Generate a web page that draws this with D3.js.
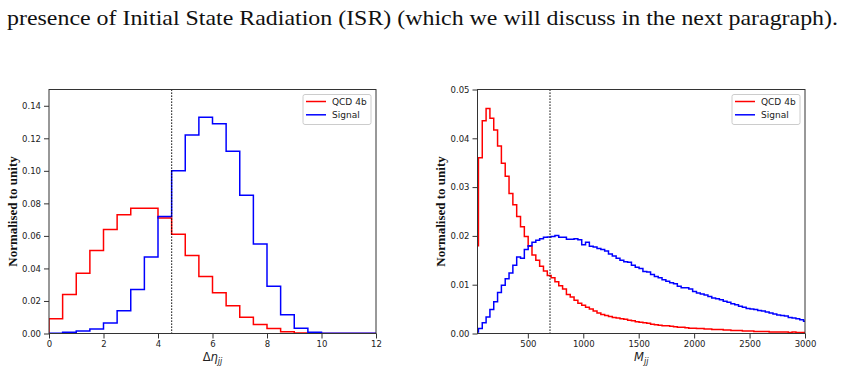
<!DOCTYPE html>
<html lang="en">
<head>
<meta charset="UTF-8">
<title>Delta eta and Mjj histograms</title>
<script src="https://cdn.jsdelivr.net/npm/d3@7"></script>
<style>
    body { margin: 0; background: #fff; }
</style>
</head>
<body>
<svg width="843" height="390" id="mainsvg"></svg>
<script>
    // Delta eta_jj histogram, bins of 0.5 from 0 to 12
    const etaFirstEdge = 0
    const etaBinWidth = 0.5
    const etaQcd = [0.009, 0.024, 0.037, 0.051, 0.064, 0.073, 0.077, 0.077, 0.071, 0.061,
        0.048, 0.035, 0.025, 0.017, 0.010, 0.0055, 0.003, 0.001, 0.0003, 0.0001,
        0, 0, 0, 0]
    const etaSignal = [0.0002, 0.0007, 0.0015, 0.0028, 0.0065, 0.014, 0.027, 0.047, 0.072, 0.100,
        0.122, 0.133, 0.129, 0.112, 0.085, 0.055, 0.029, 0.0115, 0.0033, 0.0008,
        0.0002, 0.0001, 0.0001, 0.0001]
    const etaXTicks = [0, 2, 4, 6, 8, 10, 12]
    const etaYTicks = [0, 0.02, 0.04, 0.06, 0.08, 0.10, 0.12, 0.14]
    const etaCut = 4.5

    // M_jj histogram
    const mjjFirstEdge = 20
    const mjjBinWidth = 34.5
    const mjjQcd = [0.0180, 0.0360, 0.0436, 0.0461, 0.0441, 0.0417, 0.0384, 0.0349, 0.0322, 0.0287,
        0.0264, 0.0240, 0.0219, 0.0199, 0.0179, 0.0161, 0.0150, 0.0138, 0.0128, 0.0119,
        0.0114, 0.0106, 0.0098, 0.0091, 0.0080, 0.0075, 0.0068, 0.0062, 0.0058, 0.0054,
        0.0050, 0.0046, 0.0042, 0.0039, 0.0037, 0.0035, 0.0033, 0.0032, 0.0030, 0.0029,
        0.0027, 0.0026, 0.0024, 0.0023, 0.0022, 0.0021, 0.0019, 0.0018, 0.0017, 0.0016,
        0.0016, 0.0015, 0.0014, 0.0013, 0.0013, 0.0012, 0.0011, 0.0011, 0.0010, 0.0010,
        0.0009, 0.0009, 0.0008, 0.0008, 0.0008, 0.0007, 0.0007, 0.0006, 0.0006, 0.0006,
        0.0005, 0.0005, 0.0005, 0.0004, 0.0004, 0.0004, 0.0004, 0.0003, 0.0003, 0.0003,
        0.0003, 0.0003, 0.0002, 0.0003, 0.0002, 0.0002, 0.0002]
    const mjjSignal = [0.0003, 0.0010, 0.0022, 0.0034, 0.0049, 0.0065, 0.0084, 0.0099, 0.0112, 0.0124,
        0.0140, 0.0157, 0.0154, 0.0172, 0.0180, 0.0187, 0.0191, 0.0194, 0.0197, 0.0198,
        0.0199, 0.0201, 0.0197, 0.0197, 0.0193, 0.0193, 0.0194, 0.0192, 0.0182, 0.0187,
        0.0179, 0.0177, 0.0174, 0.0172, 0.0169, 0.0163, 0.0159, 0.0154, 0.0150, 0.0147,
        0.0146, 0.0140, 0.0136, 0.0133, 0.0127, 0.0126, 0.0121, 0.0117, 0.0114, 0.0110,
        0.0107, 0.0104, 0.0102, 0.0097, 0.0094, 0.0094, 0.0091, 0.0086, 0.0083, 0.0081,
        0.0079, 0.0076, 0.0073, 0.0071, 0.0069, 0.0066, 0.0064, 0.0061, 0.0059, 0.0056,
        0.0054, 0.0051, 0.0050, 0.0049, 0.0047, 0.0046, 0.0044, 0.0042, 0.0040, 0.0038,
        0.0037, 0.0036, 0.0033, 0.0032, 0.0030, 0.0028, 0.0025]
    const mjjXTicks = [500, 1000, 1500, 2000, 2500, 3000]
    const mjjYTicks = [0, 0.01, 0.02, 0.03, 0.04, 0.05]
    const mjjCut = 700

    const seriesNames = ['QCD 4b', 'Signal']
    const seriesColors = ['#ff0000', '#0000ff']

    const svg = d3.select('#mainsvg')

    svg.append('text')
        .attr('x', 7).attr('y', 25)
        .attr('textLength', 831).attr('lengthAdjust', 'spacingAndGlyphs')
        .attr('font-family', 'Liberation Serif, serif').attr('font-size', '21px')
        .attr('fill', '#111')
        .text('presence of Initial State Radiation (ISR) (which we will discuss in the next paragraph).')

    function drawPanel(p) {
        const g = svg.append('g').attr('transform', `translate(${p.left},${p.top})`)
        const w = p.width, h = p.height

        const x = d3.scaleLinear().domain(p.xDomain).range([0, w])
        const y = d3.scaleLinear().domain(p.yDomain).range([h, 0])

        const clipId = 'clip' + p.id
        g.append('clipPath').attr('id', clipId)
            .append('rect').attr('width', w).attr('height', h)

        const line = d3.line().x(d => x(d[0])).y(d => y(d[1])).curve(d3.curveStepAfter)

        p.series.forEach((vals, si) => {
            const pts = [[p.firstEdge, 0]]
            vals.forEach((v, i) => pts.push([p.firstEdge + i * p.binWidth, v]))
            const lastEdge = p.firstEdge + vals.length * p.binWidth
            pts.push([lastEdge, vals[vals.length - 1]])
            pts.push([lastEdge, 0])
            g.append('path').datum(pts)
                .attr('clip-path', `url(#${clipId})`)
                .attr('d', line)
                .attr('fill', 'none')
                .attr('stroke', seriesColors[si])
                .attr('stroke-width', 1.5)
        })

        g.append('line')
            .attr('x1', x(p.cut)).attr('x2', x(p.cut))
            .attr('y1', 0).attr('y2', h)
            .attr('stroke', '#000').attr('stroke-width', 1.2)
            .attr('stroke-dasharray', '1.2,1.8')

        const xAxis = d3.axisBottom(x).tickValues(p.xTicks).tickSize(5).tickPadding(2.5)
            .tickFormat(d3.format('d'))
        const yAxis = d3.axisLeft(y).tickValues(p.yTicks).tickSize(5).tickPadding(3)
            .tickFormat(d3.format('.2f'))
        const xg = g.append('g').attr('transform', `translate(0,${h})`).call(xAxis)
        const yg = g.append('g').call(yAxis)
        ;[xg, yg].forEach(a => {
            a.select('.domain').remove()
            a.selectAll('line').attr('stroke', '#333')
            a.selectAll('text').attr('font-family', 'DejaVu Sans, sans-serif')
                .attr('font-size', '8.5px').attr('fill', '#222')
        })

        g.append('rect').attr('width', w).attr('height', h)
            .attr('fill', 'none').attr('stroke', '#333').attr('stroke-width', 1)

        // legend
        const lg = g.append('g').attr('transform', `translate(${w - 73},5)`)
        lg.append('rect').attr('width', 68).attr('height', 30).attr('rx', 2)
            .attr('fill', '#fff').attr('fill-opacity', 0.8)
            .attr('stroke', '#ccc').attr('stroke-width', 1)
        seriesNames.forEach((n, i) => {
            const yy = 7 + i * 13.3
            lg.append('line').attr('x1', 3).attr('x2', 23).attr('y1', yy).attr('y2', yy)
                .attr('stroke', seriesColors[i]).attr('stroke-width', 1.5)
            lg.append('text').attr('x', 29).attr('y', yy + 3.3).text(n)
                .attr('font-family', 'DejaVu Sans, sans-serif').attr('font-size', '9px')
                .attr('fill', '#222')
        })

        g.append('text')
            .attr('transform', `translate(${p.yLabelX},${h / 2}) rotate(-90)`)
            .attr('text-anchor', 'middle')
            .attr('font-family', 'Liberation Serif, serif').attr('font-weight', 'bold')
            .attr('font-size', '13px').attr('fill', '#111')
            .text('Normalised to unity')

        const xl = g.append('text')
            .attr('x', w / 2).attr('y', h + 27)
            .attr('text-anchor', 'middle')
            .attr('font-family', 'DejaVu Sans, sans-serif').attr('font-size', '11.5px')
            .attr('fill', '#222')
        xl.append('tspan').text(p.xLabelMain[0])
        xl.append('tspan').attr('font-style', 'italic').text(p.xLabelMain[1])
        xl.append('tspan').attr('font-style', 'italic').attr('font-size', '8px')
            .attr('dy', 3).text('jj')
    }

    drawPanel({
        id: 'eta', left: 49, top: 89.5, width: 327, height: 244,
        xDomain: [0, 12], yDomain: [0, 0.15],
        firstEdge: etaFirstEdge, binWidth: etaBinWidth,
        series: [etaQcd, etaSignal],
        xTicks: etaXTicks, yTicks: etaYTicks, cut: etaCut,
        yLabelX: -32.5, xLabelMain: ['Δ', 'η']
    })

    drawPanel({
        id: 'mjj', left: 477.5, top: 89.5, width: 327.5, height: 244,
        xDomain: [46, 3000], yDomain: [0, 0.05],
        firstEdge: mjjFirstEdge, binWidth: mjjBinWidth,
        series: [mjjQcd, mjjSignal],
        xTicks: mjjXTicks, yTicks: mjjYTicks, cut: mjjCut,
        yLabelX: -32.5, xLabelMain: ['', 'M']
    })
</script>
</body>
</html>
